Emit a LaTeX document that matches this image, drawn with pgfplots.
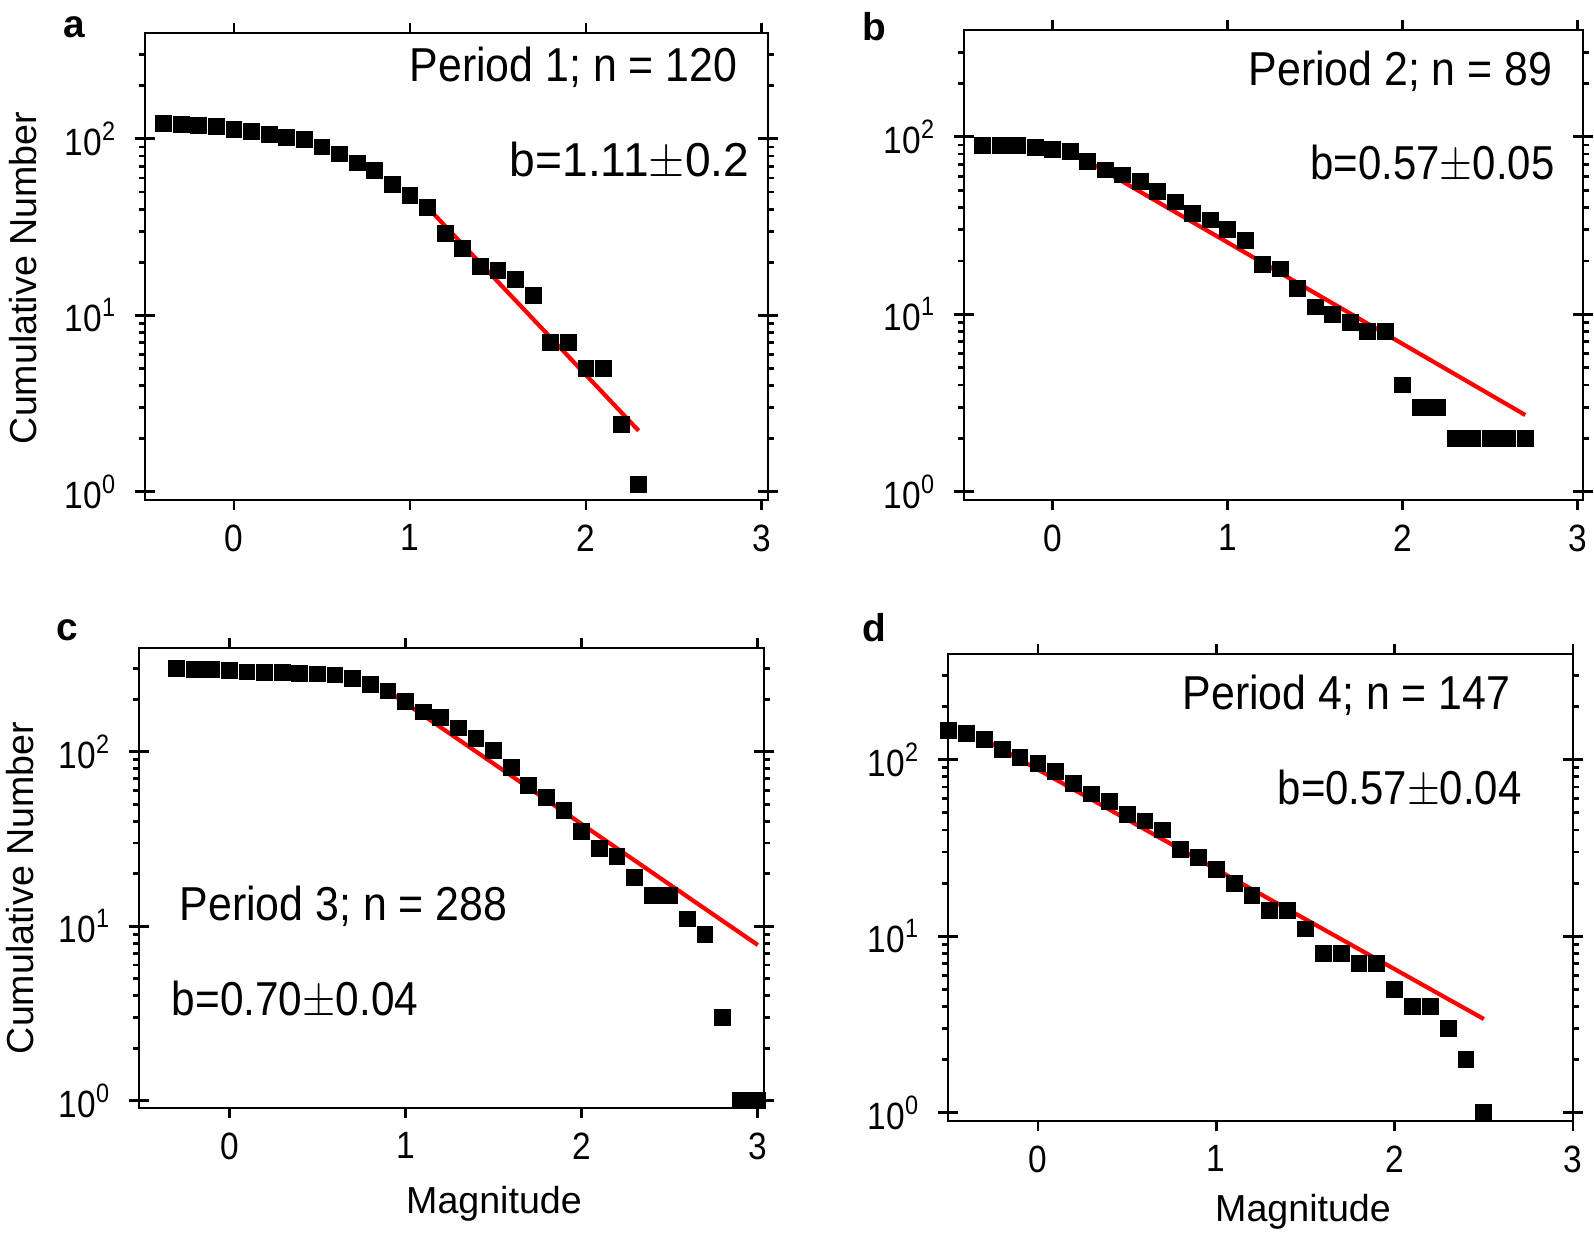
\documentclass[border=0pt]{standalone}
\usepackage{pgfplots}
\pgfplotsset{compat=1.18}
\usepackage{fontspec}
\setmainfont{Liberation Sans}
\newcommand{\tickfont}{\fontsize{9.5}{10}\selectfont}
\newcommand{\labfont}{\fontsize{9.4}{10}\selectfont}
\newcommand{\txtfont}{\fontsize{11.9}{13}\selectfont}
\begin{document}
\begin{tikzpicture}
\path[use as bounding box] (0pt,0pt) rectangle (398.5pt,309.25pt);
% ---------------- a
\begin{axis}[ymode=log, scale only axis, anchor=south west, clip=false,
  at={(36.25pt,184.25pt)}, width=155.75pt, height=116.75pt,
  xmin=-0.506, xmax=3.035, ymin=0.9, ymax=398,
  xtick={0,1,2,3}, xticklabels={0,1,2,3},
  ytick={1,10,100}, yticklabels={10\textsuperscript{0},10\textsuperscript{1},10\textsuperscript{2}},
  minor ytick={2,3,4,5,6,7,8,9,20,30,40,50,60,70,80,90,200,300},
  extra y ticks={1,10,100}, extra y tick labels={}, extra y tick style={tick align=inside},
  tick align=outside, major tick length=2.6pt, minor tick length=1.5pt,
  axis line style={line width=0.7pt}, tick style={black, line width=0.7pt},
  xticklabel style={font=\tickfont, xscale=0.88}, yticklabel style={font=\tickfont, xscale=0.88, xshift=-1.5pt}]
\addplot[only marks, mark=square*, mark size=1.9pt, black, mark options={fill=black}] coordinates {
(-0.4,122) (-0.3,120) (-0.2,119) (-0.1,118) (0.0,113) (0.1,110) (0.2,106) (0.3,102)
(0.4,99) (0.5,90) (0.6,82) (0.7,73) (0.8,66) (0.9,55) (1.0,48) (1.1,41) (1.2,29)
(1.3,24) (1.4,19) (1.5,18) (1.6,16) (1.7,13) (1.8,7) (1.9,7) (2.0,5) (2.1,5)
(2.2,2.4) (2.3,1.1)};
\addplot[red, line width=1.05pt, no marks] coordinates {(1.1,40.9) (2.3,2.22)};
\end{axis}
% ---------------- b
\begin{axis}[ymode=log, scale only axis, anchor=south west, clip=false,
  at={(241pt,184.25pt)}, width=154.75pt, height=117.5pt,
  xmin=-0.507, xmax=3.03, ymin=0.9, ymax=400,
  xtick={0,1,2,3}, xticklabels={0,1,2,3},
  ytick={1,10,100}, yticklabels={10\textsuperscript{0},10\textsuperscript{1},10\textsuperscript{2}},
  minor ytick={2,3,4,5,6,7,8,9,20,30,40,50,60,70,80,90,200,300},
  extra y ticks={1,10,100}, extra y tick labels={}, extra y tick style={tick align=inside},
  tick align=outside, major tick length=2.6pt, minor tick length=1.5pt,
  axis line style={line width=0.7pt}, tick style={black, line width=0.7pt},
  xticklabel style={font=\tickfont, xscale=0.88}, yticklabel style={font=\tickfont, xscale=0.88, xshift=-1.5pt}]
\addplot[only marks, mark=square*, mark size=1.9pt, black, mark options={fill=black}] coordinates {
(-0.4,89) (-0.3,89) (-0.2,89) (-0.1,87) (0.0,85) (0.1,83) (0.2,72.6) (0.3,65)
(0.4,61) (0.5,56) (0.6,49) (0.7,43) (0.8,37) (0.9,34) (1.0,30) (1.1,26) (1.2,19)
(1.3,18) (1.4,14) (1.5,11) (1.6,10) (1.7,9) (1.8,8) (1.9,8) (2.0,4) (2.1,3)
(2.2,3) (2.3,2) (2.4,2) (2.5,2) (2.6,2) (2.7,2)};
\addplot[red, line width=1.05pt, no marks] coordinates {(0.1,83) (2.7,2.71)};
\end{axis}
% ---------------- c
\begin{axis}[ymode=log, scale only axis, anchor=south west, clip=false,
  at={(34.75pt,32.25pt)}, width=156.25pt, height=115pt,
  xmin=-0.513, xmax=3.035, ymin=0.908, ymax=394,
  xtick={0,1,2,3}, xticklabels={0,1,2,3},
  ytick={1,10,100}, yticklabels={10\textsuperscript{0},10\textsuperscript{1},10\textsuperscript{2}},
  minor ytick={2,3,4,5,6,7,8,9,20,30,40,50,60,70,80,90,200,300},
  extra y ticks={1,10,100}, extra y tick labels={}, extra y tick style={tick align=inside},
  tick align=outside, major tick length=2.6pt, minor tick length=1.5pt,
  axis line style={line width=0.7pt}, tick style={black, line width=0.7pt},
  xticklabel style={font=\tickfont, xscale=0.88}, yticklabel style={font=\tickfont, xscale=0.88, xshift=-1.5pt}]
\addplot[only marks, mark=square*, mark size=1.9pt, black, mark options={fill=black}] coordinates {
(-0.3,300) (-0.2,298) (-0.1,295) (0.0,292) (0.1,287) (0.2,285) (0.3,285) (0.4,282)
(0.5,279) (0.6,276) (0.7,264) (0.8,244) (0.9,223) (1.0,194) (1.1,169) (1.2,157)
(1.3,137) (1.4,119) (1.5,102) (1.6,81) (1.7,64) (1.8,55) (1.9,46) (2.0,35)
(2.1,28) (2.2,25) (2.3,19) (2.4,15) (2.5,15) (2.6,11) (2.7,9) (2.8,3) (2.9,1) (3.0,1)};
\addplot[red, line width=1.05pt, no marks] coordinates {(0.9,223) (3.0,7.8)};
\end{axis}
% ---------------- d
\begin{axis}[ymode=log, scale only axis, anchor=south west, clip=false,
  at={(237pt,29pt)}, width=156.25pt, height=116.75pt,
  xmin=-0.504, xmax=3.0, ymin=0.9, ymax=397,
  xtick={0,1,2,3}, xticklabels={0,1,2,3},
  ytick={1,10,100}, yticklabels={10\textsuperscript{0},10\textsuperscript{1},10\textsuperscript{2}},
  minor ytick={2,3,4,5,6,7,8,9,20,30,40,50,60,70,80,90,200,300},
  extra y ticks={1,10,100}, extra y tick labels={}, extra y tick style={tick align=inside},
  tick align=outside, major tick length=2.6pt, minor tick length=1.5pt,
  axis line style={line width=0.7pt}, tick style={black, line width=0.7pt},
  xticklabel style={font=\tickfont, xscale=0.88}, yticklabel style={font=\tickfont, xscale=0.88, xshift=-1.5pt}]
\addplot[only marks, mark=square*, mark size=1.9pt, black, mark options={fill=black}] coordinates {
(-0.5,146) (-0.4,140) (-0.3,130) (-0.2,114) (-0.1,103) (0.0,95) (0.1,86) (0.2,73)
(0.3,64) (0.4,58) (0.5,49) (0.6,45) (0.7,40) (0.8,31) (0.9,28) (1.0,24) (1.1,20)
(1.2,17) (1.3,14) (1.4,14) (1.5,11) (1.6,8) (1.7,8) (1.8,7) (1.9,7) (2.0,5)
(2.1,4) (2.2,4) (2.3,3) (2.4,2) (2.5,1)};
\addplot[red, line width=1.05pt, no marks] coordinates {(-0.3,130) (2.5,3.4)};
\end{axis}
% ---------------- texts
\node[font=\txtfont, anchor=east, xscale=0.9, inner sep=0pt] at (184.5pt,292.5pt) {Period 1; n = 120};
\node[font=\txtfont, anchor=east, xscale=0.97, inner sep=0pt] at (187.5pt,269pt) {b=1.11$\pm$0.2};
\node[font=\txtfont, anchor=east, xscale=0.9, inner sep=0pt] at (388.25pt,291.5pt) {Period 2; n = 89};
\node[font=\txtfont, anchor=east, xscale=0.88, inner sep=0pt] at (388.75pt,268.25pt) {b=0.57$\pm$0.05};
\node[font=\txtfont, anchor=west, xscale=0.9, inner sep=0pt] at (44.75pt,82.75pt) {Period 3; n = 288};
\node[font=\txtfont, anchor=west, xscale=0.89, inner sep=0pt] at (42.75pt,59.25pt) {b=0.70$\pm$0.04};
\node[font=\txtfont, anchor=west, xscale=0.9, inner sep=0pt] at (295.5pt,135.5pt) {Period 4; n = 147};
\node[font=\txtfont, anchor=west, xscale=0.88, inner sep=0pt] at (319.25pt,112pt) {b=0.57$\pm$0.04};
% panel letters
\node[font=\fontsize{9.7}{10}\selectfont\bfseries] at (18.5pt,302.5pt) {a};
\node[font=\fontsize{9.7}{10}\selectfont\bfseries] at (218.5pt,302.5pt) {b};
\node[font=\fontsize{9.7}{10}\selectfont\bfseries] at (16.75pt,151.75pt) {c};
\node[font=\fontsize{9.7}{10}\selectfont\bfseries] at (218.5pt,152.25pt) {d};
% axis labels
\node[font=\labfont, rotate=90] at (5.75pt,239.75pt) {Cumulative Number};
\node[font=\labfont, rotate=90] at (5pt,87.25pt) {Cumulative Number};
\node[font=\labfont] at (123.5pt,8.25pt) {Magnitude};
\node[font=\labfont] at (325.75pt,6.25pt) {Magnitude};
\end{tikzpicture}
\end{document}
